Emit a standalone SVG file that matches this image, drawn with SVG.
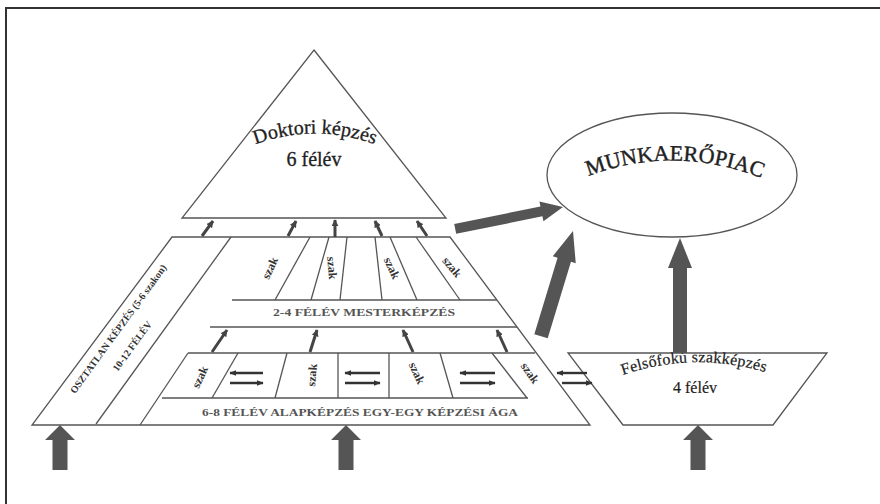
<svg xmlns="http://www.w3.org/2000/svg" width="880" height="504" viewBox="0 0 880 504">
<style>
.ln{fill:none;stroke:#555;stroke-width:1.3}
.fr{fill:none;stroke:#333;stroke-width:2}
.sh{fill:#fff;stroke:#555;stroke-width:1.3}
.big{fill:#555}
.sm{stroke:#444;stroke-width:3;fill:none}
.dx{stroke:#333;stroke-width:2.4;fill:none}
.t{font-family:"Liberation Serif",serif;fill:#222}
.lab{font-family:"Liberation Serif",serif;font-weight:bold;fill:#555;font-size:10px}
.szak{font-family:"Liberation Serif",serif;font-weight:bold;fill:#333;font-size:12px}
</style>
<defs>
<marker id="ms" viewBox="0 0 10 10" refX="9" refY="5" markerWidth="7" markerHeight="7" markerUnits="userSpaceOnUse" orient="auto"><path d="M0,0 L10,5 L0,10 z" fill="#444"/></marker>
<marker id="md" viewBox="0 0 10 10" refX="9" refY="5" markerWidth="7" markerHeight="6" markerUnits="userSpaceOnUse" orient="auto" preserveAspectRatio="none"><path d="M0,0 L10,5 L0,10 z" fill="#333"/></marker>
<path id="pDok" d="M 244,149 Q 315,118 386,149"/>
<path id="pMun" d="M 574,182 Q 673,138 776,184"/>
<path id="pFel" d="M 620,376 Q 693,350 768,373"/>
</defs>
<g id="frame"><path class="fr" d="M6,504 L6,8 L880,8"/></g>

<g id="doktori">
<polygon class="sh" points="314,50 446,218 182,218"/>
<text class="t" font-size="20" style="stroke:#222;stroke-width:0.3"><textPath href="#pDok" startOffset="50%" text-anchor="middle">Doktori képzés</textPath></text>
<text class="t" font-size="20" x="314" y="166" text-anchor="middle" style="stroke:#222;stroke-width:0.3">6 félév</text>
</g>

<g id="munkaeropiac">
<ellipse class="sh" cx="672" cy="175" rx="125" ry="62"/>
<text class="t" font-size="22" style="stroke:#222;stroke-width:0.4"><textPath href="#pMun" startOffset="50%" text-anchor="middle">MUNKAERŐPIAC</textPath></text>
</g>

<g id="pyramid">
<polygon class="sh" points="172,237 450,237 590,425 32,425"/>
<line class="ln" x1="231" y1="237" x2="96" y2="424"/>
<line class="ln" x1="188" y1="353" x2="140" y2="425"/>
</g>

<g id="osztatlan">
<text class="lab" font-size="10" transform="translate(121,331) rotate(-54)" text-anchor="middle" style="fill:#333">OSZTATLAN  KÉPZÉS (5-6 szakon)</text>
<text class="lab" font-size="10" transform="translate(135,348) rotate(-54)" text-anchor="middle" style="fill:#333">10-12 FÉLÉV</text>
</g>

<g id="mester">
<line class="ln" x1="310" y1="237" x2="275" y2="300"/>
<line class="ln" x1="329" y1="237" x2="311" y2="300"/>
<line class="ln" x1="347" y1="237" x2="340" y2="300"/>
<line class="ln" x1="375" y1="237" x2="382" y2="300"/>
<line class="ln" x1="390" y1="237" x2="417" y2="300"/>
<line class="ln" x1="416" y1="237" x2="460" y2="300"/>
<line class="ln" x1="232" y1="300" x2="497" y2="300"/>
<line class="ln" x1="210" y1="327" x2="517" y2="327"/>
<text class="szak" transform="translate(270,268) rotate(-65)" text-anchor="middle" dy="4">szak</text>
<text class="szak" transform="translate(332,268) rotate(85)" text-anchor="middle" dy="4">szak</text>
<text class="szak" transform="translate(392,268) rotate(65)" text-anchor="middle" dy="4">szak</text>
<text class="szak" transform="translate(452,267) rotate(50)" text-anchor="middle" dy="4">szak</text>
<text class="lab" x="364" y="316" text-anchor="middle" textLength="182" lengthAdjust="spacingAndGlyphs">2-4 FÉLÉV MESTERKÉPZÉS</text>
</g>

<g id="alap">
<line class="ln" x1="188" y1="353" x2="535" y2="353"/>
<line class="ln" x1="162" y1="398" x2="528" y2="398"/>
<line class="ln" x1="238" y1="353" x2="212" y2="398"/>
<line class="ln" x1="287" y1="353" x2="275" y2="398"/>
<line class="ln" x1="338" y1="353" x2="338" y2="398"/>
<line class="ln" x1="389" y1="353" x2="389" y2="398"/>
<line class="ln" x1="440" y1="353" x2="453" y2="398"/>
<line class="ln" x1="492" y1="353" x2="527" y2="398"/>
<text class="szak" transform="translate(200,377) rotate(-65)" text-anchor="middle" dy="4">szak</text>
<text class="szak" transform="translate(312,375) rotate(-85)" text-anchor="middle" dy="4">szak</text>
<text class="szak" transform="translate(417,373) rotate(65)" text-anchor="middle" dy="4">szak</text>
<text class="szak" transform="translate(530,373) rotate(55)" text-anchor="middle" dy="4">szak</text>
<text class="lab" x="360" y="416" text-anchor="middle" textLength="316" lengthAdjust="spacingAndGlyphs">6-8 FÉLÉV ALAPKÉPZÉS EGY-EGY KÉPZÉSI ÁGA</text>
</g>

<g id="felsofoku">
<polygon class="sh" points="568,353 827,353 773,425 623,425"/>
<text class="t" font-size="16" style="stroke:#222;stroke-width:0.2"><textPath href="#pFel" startOffset="50%" text-anchor="middle" textLength="145" lengthAdjust="spacing">Felsőfokú szakképzés</textPath></text>
<text class="t" font-size="16" x="695" y="393" text-anchor="middle" style="stroke:#222;stroke-width:0.2">4 félév</text>
</g>

<g id="connectors">
<line class="sm" x1="202" y1="236" x2="213" y2="221" marker-end="url(#ms)"/>
<line class="sm" x1="288" y1="236" x2="296" y2="221" marker-end="url(#ms)"/>
<line class="sm" x1="335" y1="237" x2="335" y2="220" marker-end="url(#ms)"/>
<line class="sm" x1="382" y1="236" x2="375" y2="221" marker-end="url(#ms)"/>
<line class="sm" x1="427" y1="236" x2="417" y2="221" marker-end="url(#ms)"/>
<line class="sm" x1="212" y1="352" x2="227" y2="330" marker-end="url(#ms)"/>
<line class="sm" x1="310" y1="352" x2="317" y2="330" marker-end="url(#ms)"/>
<line class="sm" x1="413" y1="352" x2="403" y2="330" marker-end="url(#ms)"/>
<line class="sm" x1="507" y1="352" x2="497" y2="330" marker-end="url(#ms)"/>
<line class="dx" x1="263" y1="373" x2="230" y2="373" marker-end="url(#md)"/>
<line class="dx" x1="230" y1="383" x2="263" y2="383" marker-end="url(#md)"/>
<line class="dx" x1="380" y1="373" x2="345" y2="373" marker-end="url(#md)"/>
<line class="dx" x1="345" y1="383" x2="380" y2="383" marker-end="url(#md)"/>
<line class="dx" x1="495" y1="373" x2="460" y2="373" marker-end="url(#md)"/>
<line class="dx" x1="460" y1="383" x2="495" y2="383" marker-end="url(#md)"/>
<line class="dx" x1="587" y1="373" x2="557" y2="373" marker-end="url(#md)"/>
<line class="dx" x1="562" y1="383" x2="592" y2="383" marker-end="url(#md)"/>
<polygon class="big" points="60,425 75,440 67.5,440 67.5,470 52.5,470 52.5,440 45,440"/>
<polygon class="big" points="346,425 361,440 353.5,440 353.5,470 338.5,470 338.5,440 331,440"/>
<polygon class="big" points="698,425 713,440 705.5,440 705.5,470 690.5,470 690.5,440 683,440"/>
<polygon class="big" points="680,238 692,268 687,268 687,353 673,353 673,268 668,268"/>
<polygon class="big" transform="translate(573,231) rotate(16.9)" points="0,0 12,30 7,30 7,110 -7,110 -7,30 -12,30"/>
<polygon class="big" transform="translate(563,207) rotate(78.5)" points="0,0 10,22 5,22 5,110 -5,110 -5,22 -10,22"/>
</g>
</svg>
